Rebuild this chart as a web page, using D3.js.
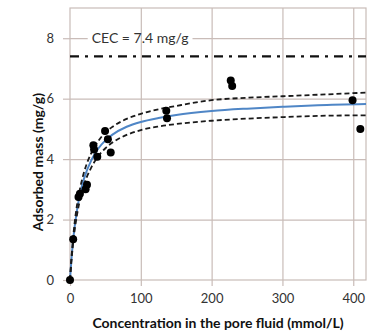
<!DOCTYPE html>
<html>
<head>
<meta charset="utf-8">
<script src="https://cdn.jsdelivr.net/npm/d3@7"></script>
<style>
  html, body { margin: 0; padding: 0; background: #ffffff; }
  svg { display: block; }
  text { font-family: Lato, "Open Sans", sans-serif; }
</style>
</head>
<body>
<svg id="chart" width="387" height="334"></svg>
<script>
// Measured adsorbed mass vs. pore-fluid concentration
const concData = [0, 4.5, 12, 14, 22, 24, 33, 34, 38.5, 49.5, 53.5, 57.5, 136, 137, 227, 229, 399, 410];
const massData = [0, 1.35, 2.75, 2.85, 3.0, 3.15, 4.46, 4.32, 4.08, 4.93, 4.66, 4.22, 5.6, 5.35, 6.6, 6.42, 5.95, 5.0];

// Fitted isotherm and its confidence band, sampled along concentration
const fitConc  = [0, 2, 5, 10, 15, 20, 30, 40, 50, 60, 80, 100, 125, 150, 200, 250, 300, 350, 418];
const fitMass  = [0, 0.67, 1.45, 2.33, 2.93, 3.37, 3.96, 4.35, 4.62, 4.81, 5.07, 5.23, 5.36, 5.46, 5.59, 5.67, 5.73, 5.78, 5.82];
const fitUpper = [0, 0.72, 1.55, 2.5, 3.12, 3.58, 4.2, 4.6, 4.88, 5.07, 5.33, 5.5, 5.65, 5.76, 5.95, 6.03, 6.08, 6.13, 6.2];
const fitLower = [0, 0.62, 1.35, 2.17, 2.74, 3.16, 3.72, 4.1, 4.36, 4.55, 4.8, 4.96, 5.08, 5.16, 5.27, 5.34, 5.39, 5.43, 5.45];

// Cation exchange capacity
const cecValue = 7.4;
const cecLabel = "CEC = 7.4 mg/g";

const xTicks = [0, 100, 200, 300, 400];
const yTicks = [0, 2, 4, 6, 8];
const xTitle = "Concentration in the pore fluid (mmol/L)";
const yTitle = "Adsorbed mass (mg/g)";

const margin = { top: 8, right: 21, bottom: 54, left: 70 };
const svg = d3.select("#chart");
const W = +svg.attr("width"), H = +svg.attr("height");
const width = W - margin.left - margin.right;
const height = H - margin.top - margin.bottom;

const gridColor = "#c9bcb8";
const labelColor = "#333333";

const x = d3.scaleLinear().domain([0, 418]).range([0, width]);
const y = d3.scaleLinear().domain([0, 9]).range([height, 0]);

const g = svg.append("g").attr("transform", `translate(${margin.left},${margin.top})`);

g.append("rect").attr("width", width).attr("height", height).attr("fill", "#ffffff");

const styleGrid = a => {
  a.select(".domain").remove();
  a.selectAll("line").attr("stroke", gridColor).attr("stroke-width", 1.2);
};

// Horizontal gridlines
g.append("g").call(d3.axisLeft(y).tickValues(yTicks.filter(d => d > 0)).tickSize(-width).tickFormat(""))
  .call(styleGrid);

// White box behind the CEC label (masks the horizontal gridline only)
const cecLayer = g.append("g");

// Vertical gridlines
g.append("g").call(d3.axisBottom(x).tickValues(xTicks.filter(d => d > 0)).tickSize(height).tickFormat(""))
  .call(styleGrid);

// Axes with outward tick marks
const yAxis = g.append("g").call(d3.axisLeft(y).tickValues(yTicks).tickSize(7).tickPadding(9));
const xAxis = g.append("g").attr("transform", `translate(0,${height})`)
  .call(d3.axisBottom(x).tickValues(xTicks).tickSize(6).tickPadding(8));
[yAxis, xAxis].forEach(a => {
  styleGrid(a);
  a.selectAll("text").attr("fill", labelColor).style("font-size", "13px").style("font-family", "Lato, sans-serif");
});

// Plot frame
g.append("rect").attr("width", width).attr("height", height)
  .attr("fill", "none").attr("stroke", gridColor).attr("stroke-width", 1.2);

// CEC reference line
g.append("line")
  .attr("x1", 0).attr("x2", width)
  .attr("y1", y(cecValue)).attr("y2", y(cecValue))
  .attr("stroke", "#111").attr("stroke-width", 2.4)
  .attr("stroke-dasharray", "9,6,3,6");

const cecText = g.append("text")
  .attr("x", x(99)).attr("y", y(8))
  .attr("dy", "0.35em").attr("text-anchor", "middle")
  .attr("fill", labelColor).style("font-size", "14px")
  .text(cecLabel);
const bb = cecText.node().getBBox();
cecLayer.append("rect")
  .attr("x", bb.x - 4).attr("y", bb.y).attr("width", bb.width + 8).attr("height", bb.height)
  .attr("fill", "#ffffff");

// Fitted curve and confidence band
const fitLine = vals => d3.line()
  .x((d, i) => x(fitConc[i])).y(d => y(d))
  .curve(d3.curveMonotoneX)(vals);

g.append("path").attr("d", fitLine(fitMass))
  .attr("fill", "none").attr("stroke", "#4f86c6").attr("stroke-width", 2);
[fitUpper, fitLower].forEach(vals => {
  g.append("path").attr("d", fitLine(vals))
    .attr("fill", "none").attr("stroke", "#1a1a1a").attr("stroke-width", 1.8)
    .attr("stroke-dasharray", "5,3");
});

// Measured points
g.selectAll("circle.pt").data(concData).enter().append("circle")
  .attr("class", "pt")
  .attr("cx", d => x(d)).attr("cy", (d, i) => y(massData[i]))
  .attr("r", 4).attr("fill", "#000");

// Axis titles
svg.append("text")
  .attr("x", 218).attr("y", 328)
  .attr("text-anchor", "middle").attr("fill", "#111")
  .style("font-size", "14px").style("font-weight", "bold")
  .text(xTitle);

svg.append("text")
  .attr("transform", `translate(38,${margin.top + y(3.9)}) rotate(-90)`)
  .attr("text-anchor", "middle").attr("dy", "0.35em").attr("fill", "#111")
  .style("font-size", "14px").style("font-weight", "bold")
  .text(yTitle);
</script>
</body>
</html>
